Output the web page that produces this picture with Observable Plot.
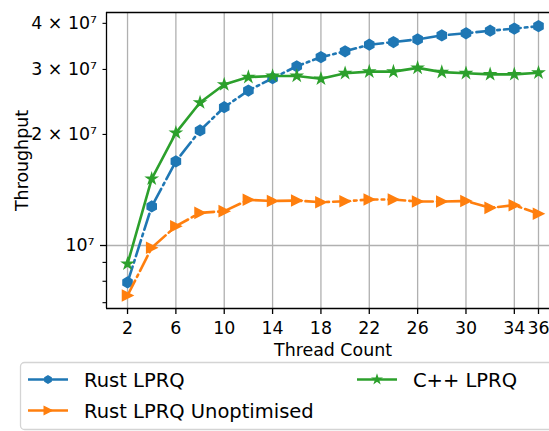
<!DOCTYPE html>
<html>
<head>
<meta charset="utf-8">
<script src="https://cdn.jsdelivr.net/npm/d3@7"></script>
<script src="https://cdn.jsdelivr.net/npm/@observablehq/plot@0.6"></script>
<style>
  html, body { margin: 0; padding: 0; background: #fff; }
  body { width: 549px; height: 431px; overflow: hidden; position: relative; font-family: "DejaVu Sans", sans-serif; }
  #legend { position: absolute; left: 0; top: 0; pointer-events: none; }
</style>
</head>
<body>
<div id="chart"></div>
<script>
// Thread counts on the x axis
const threads = [2, 4, 6, 8, 10, 12, 14, 16, 18, 20, 22, 24, 26, 28, 30, 32, 34, 36];

// Throughput (operations per second) for each queue implementation
const rustLprq = [7.94e6, 1.276e7, 1.69e7, 2.05e7, 2.37e7, 2.63e7, 2.84e7, 3.06e7, 3.24e7,
                  3.36e7, 3.50e7, 3.56e7, 3.62e7, 3.71e7, 3.76e7, 3.82e7, 3.87e7, 3.93e7];
const rustLprqUnopt = [7.32e6, 9.86e6, 1.128e7, 1.226e7, 1.239e7, 1.33e7, 1.32e7, 1.324e7, 1.31e7,
                       1.318e7, 1.332e7, 1.332e7, 1.316e7, 1.316e7, 1.32e7, 1.265e7, 1.286e7, 1.219e7];
const cppLprq = [8.92e6, 1.516e7, 2.02e7, 2.44e7, 2.73e7, 2.86e7, 2.88e7, 2.88e7, 2.83e7,
                 2.93e7, 2.96e7, 2.96e7, 3.03e7, 2.95e7, 2.93e7, 2.91e7, 2.91e7, 2.94e7];

const seriesNames = ["Rust LPRQ", "Rust LPRQ Unoptimised", "C++ LPRQ"];

// Axis ticks
const xTicks = [2, 6, 10, 14, 18, 22, 26, 30, 34, 36];
const yMajorTicks = [1e7];
const yLabelledMinorTicks = [2e7, 3e7, 4e7];
const yMinorTicks = [7e6, 8e6, 9e6];

// ---------------------------------------------------------------
const colors = ["#1f77b4", "#ff7f0e", "#2ca02c"];
const dashes = ["16.7,4.2,2.6,4.2", "16.7,4.2,2.6,4.2", null];
const tickFont = 17.4;
const labelFont = 17.4;
const legendFont = 19.5;

// Marker shapes (size is area, as for d3 symbols)
const hexagon = {
  draw(ctx, size) {
    const r = Math.sqrt(size / Math.PI), h = r * Math.sqrt(3) / 2;
    ctx.moveTo(0, -r); ctx.lineTo(h, -r / 2); ctx.lineTo(h, r / 2);
    ctx.lineTo(0, r); ctx.lineTo(-h, r / 2); ctx.lineTo(-h, -r / 2); ctx.closePath();
  }
};
const triangleRight = {
  draw(ctx, size) {
    const r = Math.sqrt(size / Math.PI);
    ctx.moveTo(r, 0); ctx.lineTo(-r, -r); ctx.lineTo(-r, r); ctx.closePath();
  }
};
const star = d3.symbolStar;
const symbols = [hexagon, triangleRight, star];
const radii = [5.2, 5.0, 3.1];

const supDigits = {"0":"⁰","1":"¹","2":"²","3":"³","4":"⁴","5":"⁵","6":"⁶","7":"⁷","8":"⁸","9":"⁹","-":"⁻"};
function sciFormat(v) {
  const e = Math.floor(Math.log10(v) + 1e-9);
  const m = Math.round(v / Math.pow(10, e));
  const pow = "10" + String(e).split("").map(c => supDigits[c]).join("");
  return m === 1 ? pow : `${m} × ${pow}`;
}

const table = threads.map((t, i) => ({t, v: [rustLprq[i], rustLprqUnopt[i], cppLprq[i]]}));
const xDomain = [0.26, 36.91];
const yDomain = [6.75e6, 4.28e7];

const seriesMarks = [0, 1, 2].flatMap(k => [
  Plot.line(table, {x: "t", y: d => d.v[k], stroke: colors[k], strokeWidth: 2.6,
    strokeDasharray: dashes[k], strokeLinejoin: "round"}),
  Plot.dot(table, {x: "t", y: d => d.v[k], symbol: symbols[k], r: radii[k],
    fill: colors[k], stroke: colors[k], strokeWidth: 1.6})
]);

const chart = Plot.plot({
  width: 549,
  height: 360,
  marginLeft: 106,
  marginRight: 0,
  marginTop: 12,
  marginBottom: 52,
  style: {fontFamily: "DejaVu Sans, sans-serif", fontSize: `${tickFont}px`, color: "#000", background: "#fff", overflow: "visible"},
  x: {domain: xDomain},
  y: {type: "log", domain: yDomain},
  marks: [
    Plot.ruleX(xTicks, {stroke: "#b0b0b0", strokeWidth: 1.3}),
    Plot.ruleY(yMajorTicks, {stroke: "#b0b0b0", strokeWidth: 1.3}),
    Plot.axisX(xTicks, {tickSize: 6, tickPadding: 7, label: null, strokeWidth: 1.3, fontSize: tickFont}),
    Plot.axisY(yMajorTicks, {tickSize: 6, tickPadding: 6, tickFormat: sciFormat, label: null, strokeWidth: 1.3, fontSize: tickFont}),
    Plot.axisY(yLabelledMinorTicks, {tickSize: 3.5, tickPadding: 6, tickFormat: sciFormat, label: null, strokeWidth: 1.1, fontSize: tickFont}),
    Plot.axisY(yMinorTicks, {tickSize: 3.5, tickFormat: () => "", label: null, strokeWidth: 1.1}),
    ...seriesMarks,
    // axes spines: left, top, bottom
    Plot.ruleX([xDomain[0]], {stroke: "#000", strokeWidth: 1.3}),
    Plot.ruleY(yDomain, {stroke: "#000", strokeWidth: 1.3}),
    Plot.text(["Thread Count"], {text: d => d, frameAnchor: "bottom", textAnchor: "middle", lineAnchor: "middle",
      dx: 5, dy: 42, fontSize: labelFont}),
    Plot.text(["Throughput"], {text: d => d, frameAnchor: "left", textAnchor: "middle", lineAnchor: "middle",
      dx: -84, rotate: -90, fontSize: labelFont})
  ]
});
// tick labels use the tick font
d3.select(chart).selectAll('g[aria-label$="tick label"]')
  .attr("font-size", tickFont)
  .selectAll("text").style("font-size", `${tickFont}px`);
document.getElementById("chart").appendChild(chart);

// Legend box below the chart
const legend = d3.select("body").append("svg")
  .attr("id", "legend").attr("width", 549).attr("height", 431)
  .style("font-family", "DejaVu Sans, sans-serif");
legend.append("rect")
  .attr("x", 20.5).attr("y", 362.5).attr("width", 600).attr("height", 67)
  .attr("rx", 4).attr("fill", "#fff").attr("stroke", "#d4d4d4").attr("stroke-width", 1.3);
const entries = [
  {x: 28, y: 379.5},
  {x: 28, y: 410.5},
  {x: 357, y: 379.5}
];
const legendRadii = [3.6, 3.8, 2.4];
seriesNames.forEach((name, k) => {
  const {x, y} = entries[k];
  const g = legend.append("g");
  g.append("line").attr("x1", x).attr("x2", x + 40).attr("y1", y).attr("y2", y)
    .attr("stroke", colors[k]).attr("stroke-width", 2.6);
  g.append("path")
    .attr("d", d3.symbol(symbols[k], Math.PI * legendRadii[k] ** 2)())
    .attr("transform", `translate(${x + 20},${y})`)
    .attr("fill", colors[k]).attr("stroke", colors[k]).attr("stroke-width", 1.4);
  g.append("text").attr("x", x + 56).attr("y", y + 7).attr("font-size", legendFont)
    .attr("fill", "#000").text(name);
});
</script>
</body>
</html>
